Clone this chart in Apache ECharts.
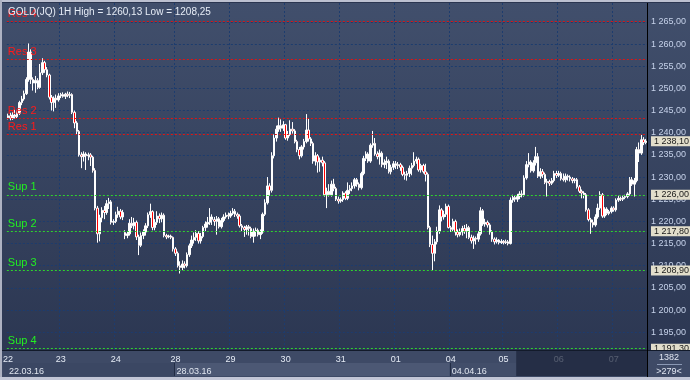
<!DOCTYPE html>
<html><head><meta charset="utf-8">
<script src="https://cdn.jsdelivr.net/npm/echarts@6/dist/echarts.min.js"></script>
<style>html,body{margin:0;padding:0;background:#2e3a55;}#c{width:690px;height:380px;}</style>
</head><body><div id="c"></div>
<script>
// ---- data ----
const symbolName = 'GOLD(JQ)';
const timeframe = '1H';
const dayLabels = ['22','23','24','28','29','30','31','01','04','05','06','07'];
const dayBarCounts = [23,24,26,24,24,24,24,24,23,24,24,15];
const weekLabels = ['22.03.16','28.03.16','04.04.16'];
const weekStartDays = [0,3,8];
const fadedFromBar = 222;
const barTotal = '1382';
const barsVisible = '>279<';

const opens = [
1243.4,1243.8,1243.3,1244.0,1243.6,1244.4,1246.8,1247.6,1248.8,1252.0,1258.2,1252.0,1251.2,1251.8,1250.2,1253.5,1255.8,1254.2,1253.0,1248.0,1246.8,1247.8,1247.4,
1248.3,1248.6,1248.2,1248.7,1248.4,1248.6,1244.6,1242.2,1240.3,1235.0,1234.6,1235.2,1234.8,1235.0,1234.5,1231.5,1223.0,1217.2,1220.8,1222.5,1222.0,1224.0,1224.4,1219.8,
1220.0,1221.5,1222.3,1221.0,1217.5,1216.8,1217.2,1219.6,1219.0,1219.8,1216.5,1214.6,1216.8,1217.6,1219.0,1221.5,1222.2,1218.6,1219.8,1221.2,1220.6,1221.4,1216.8,1216.5,1216.7,1216.4,
1213.8,1212.8,1210.0,1209.6,1210.4,1210.0,1212.5,1214.5,1215.8,1216.4,1217.3,1215.6,1216.6,1218.6,1219.4,1219.8,1221.0,1220.4,1220.0,1220.6,1218.8,1220.2,1221.0,1221.4,
1221.2,1221.8,1222.3,1221.6,1221.2,1219.0,1218.6,1218.2,1218.8,1218.4,1216.6,1217.8,1218.0,1217.0,1217.6,1221.6,1224.2,1228.0,1227.0,1234.8,1238.8,1240.8,1241.6,1241.0,
1241.8,1238.8,1239.6,1240.8,1240.4,1238.0,1236.2,1234.8,1236.8,1238.0,1240.6,1238.6,1237.6,1233.6,1234.8,1233.4,1233.8,1233.2,1226.0,1226.8,1226.0,1228.4,1227.4,1225.0,
1224.6,1224.9,1226.4,1225.2,1227.0,1227.4,1228.0,1229.4,1228.4,1227.6,1230.8,1234.2,1235.2,1233.6,1237.2,1237.6,1235.2,1234.6,1235.4,1232.8,1233.2,1233.6,1231.2,1232.2,
1233.0,1232.6,1232.8,1232.2,1230.6,1230.4,1230.8,1232.0,1232.6,1233.6,1234.0,1231.6,1232.6,1231.2,1230.6,1218.6,1214.8,1212.8,1215.4,1217.8,1222.6,1221.0,1221.6,1223.4,
1218.6,1218.2,1220.0,1217.6,1217.0,1217.6,1218.4,1217.8,1218.6,1216.4,1215.6,1216.2,1216.0,1217.2,1222.4,1219.4,1219.8,1219.2,1217.6,1216.0,1215.4,1215.8,1215.2,
1215.5,1215.2,1215.4,1215.0,1224.8,1225.4,1225.0,1225.6,1226.2,1226.0,1229.8,1232.8,1233.4,1231.4,1233.2,1234.6,1230.2,1231.2,1230.6,1228.8,1229.0,1228.6,1229.2,1230.8,
1230.4,1230.8,1229.6,1229.4,1230.2,1230.0,1229.6,1229.2,1229.4,1227.8,1226.8,1226.4,1226.0,1222.6,1220.4,1219.8,1219.2,1221.0,1223.0,1226.0,1221.2,1222.8,1221.8,1222.2,
1223.0,1222.6,1224.8,1225.2,1225.0,1225.4,1225.6,1226.2,1229.4,1228.4,1229.2,1236.2,1235.4,1238.4,1237.8
];
const closes = [
1243.8,1243.3,1244.0,1243.6,1244.4,1246.8,1247.6,1248.8,1252.0,1258.2,1252.0,1251.2,1251.8,1250.2,1253.5,1255.8,1254.2,1253.0,1248.0,1246.8,1247.8,1247.4,1248.3,
1248.6,1248.2,1248.7,1248.4,1248.6,1244.6,1242.2,1240.3,1235.0,1234.6,1235.2,1234.8,1235.0,1234.5,1231.5,1223.0,1217.2,1220.8,1222.5,1222.0,1224.0,1224.4,1219.8,1220.0,
1221.5,1222.3,1221.0,1222.0,1216.8,1217.2,1219.6,1219.0,1219.8,1216.5,1214.6,1216.8,1217.6,1219.0,1221.5,1222.2,1218.6,1219.8,1221.2,1220.6,1221.4,1216.8,1216.5,1216.7,1216.4,1213.8,
1212.8,1210.0,1209.6,1210.4,1210.0,1212.5,1214.5,1215.8,1216.4,1217.3,1215.6,1216.6,1218.6,1219.4,1219.8,1221.0,1220.4,1220.0,1220.6,1218.8,1220.2,1221.0,1221.4,1221.2,
1221.8,1222.3,1221.6,1221.2,1219.0,1218.6,1218.2,1218.8,1218.4,1216.6,1217.8,1218.0,1217.0,1217.6,1221.6,1224.2,1228.0,1227.0,1234.8,1238.8,1240.8,1241.6,1241.0,1241.8,
1238.8,1239.6,1240.8,1240.4,1238.0,1236.2,1234.8,1236.8,1238.0,1240.6,1238.6,1237.6,1233.6,1234.8,1233.4,1233.8,1233.2,1226.0,1226.8,1226.0,1228.4,1227.4,1225.0,1224.6,
1224.9,1226.4,1225.2,1227.0,1227.4,1228.0,1229.4,1228.4,1227.6,1230.8,1234.2,1235.2,1233.6,1237.2,1237.6,1235.2,1234.6,1235.4,1232.8,1233.2,1233.6,1231.2,1232.2,1233.0,
1232.6,1232.8,1232.2,1230.6,1230.4,1230.8,1232.0,1232.6,1233.6,1234.0,1231.6,1232.6,1231.2,1230.6,1218.6,1214.8,1212.8,1215.4,1217.8,1222.6,1221.0,1221.6,1223.4,1218.6,
1218.2,1220.0,1217.6,1217.0,1217.6,1218.4,1217.8,1218.6,1216.4,1215.6,1216.2,1216.0,1217.2,1222.4,1219.4,1219.8,1219.2,1217.6,1216.0,1215.4,1215.8,1215.2,1215.5,
1215.2,1215.4,1215.0,1224.8,1225.4,1225.0,1225.6,1226.2,1226.0,1229.8,1232.8,1233.4,1231.4,1233.2,1234.6,1230.2,1231.2,1230.6,1228.8,1229.0,1228.6,1229.2,1230.8,1230.4,
1230.8,1229.6,1229.4,1230.2,1230.0,1229.6,1229.2,1229.4,1227.8,1226.8,1226.4,1226.0,1222.6,1220.4,1219.8,1219.2,1221.0,1223.0,1226.0,1221.2,1222.8,1221.8,1222.2,1223.0,
1222.6,1224.8,1225.2,1225.0,1225.4,1225.6,1226.2,1229.4,1228.4,1229.2,1236.2,1235.4,1238.4,1237.8,1238.1
];
const lows = [
1243.0,1242.8,1242.9,1243.2,1243.3,1244.0,1246.2,1247.2,1248.5,1251.5,1251.0,1249.5,1249.0,1249.8,1249.9,1253.0,1253.5,1252.5,1247.5,1245.0,1244.8,1245.6,1247.0,
1247.8,1247.9,1247.6,1248.0,1247.8,1244.2,1241.0,1239.6,1234.6,1232.0,1233.5,1231.6,1233.8,1232.5,1231.0,1222.5,1215.2,1215.5,1219.8,1220.5,1221.5,1222.8,1219.3,1219.2,
1219.6,1220.8,1220.5,1220.3,1216.0,1216.2,1216.8,1218.5,1218.2,1215.8,1212.4,1214.2,1216.0,1216.8,1218.5,1220.8,1218.0,1218.0,1219.2,1219.6,1219.8,1216.4,1216.0,1216.2,1216.0,1213.2,
1212.2,1209.6,1208.25,1209.0,1209.4,1209.6,1212.0,1214.0,1215.0,1215.6,1215.0,1215.0,1216.2,1217.8,1218.6,1219.2,1219.2,1219.0,1217.0,1218.4,1218.4,1219.8,1220.6,1220.5,
1220.8,1221.4,1221.0,1220.6,1218.6,1217.8,1216.5,1217.0,1216.8,1216.2,1215.2,1216.6,1216.6,1216.0,1217.2,1221.2,1223.8,1225.8,1226.5,1234.2,1238.0,1240.2,1240.2,1240.4,
1238.4,1238.2,1239.2,1239.8,1237.6,1235.6,1234.0,1234.4,1236.2,1237.6,1238.0,1237.0,1233.0,1232.6,1231.0,1231.2,1232.4,1225.6,1223.0,1225.6,1225.6,1226.8,1224.6,1224.0,
1224.2,1224.4,1224.8,1224.8,1226.2,1226.8,1227.4,1227.8,1227.0,1227.2,1230.4,1233.6,1233.2,1233.2,1236.6,1234.8,1234.0,1232.8,1232.2,1232.0,1231.8,1230.8,1230.6,1231.6,
1231.8,1231.8,1231.4,1230.2,1229.4,1229.2,1230.0,1230.4,1232.2,1233.0,1231.2,1231.0,1230.8,1229.0,1218.2,1214.2,1209.0,1211.0,1214.8,1217.2,1220.0,1220.4,1221.0,1218.4,
1217.6,1217.8,1216.8,1216.4,1216.6,1216.8,1217.2,1216.2,1216.0,1215.0,1213.8,1214.8,1215.4,1216.8,1219.0,1218.8,1218.6,1217.0,1215.4,1214.8,1215.0,1214.8,1214.9,
1214.8,1214.9,1214.6,1214.8,1224.2,1224.4,1224.4,1225.0,1225.4,1225.6,1229.4,1232.2,1231.0,1231.0,1232.6,1229.8,1229.6,1229.8,1228.4,1225.6,1228.0,1228.2,1228.8,1229.8,
1230.0,1229.2,1229.0,1228.8,1229.2,1229.0,1228.6,1228.6,1227.4,1226.4,1225.2,1225.2,1222.2,1220.0,1217.2,1218.6,1218.8,1220.6,1222.6,1220.8,1220.8,1221.4,1221.4,1221.8,
1222.2,1222.2,1224.4,1224.6,1224.6,1225.0,1225.2,1225.8,1228.0,1225.6,1228.8,1233.4,1235.0,1237.2,1237.4
];
const highs = [
1244.3,1244.5,1244.6,1245.2,1245.0,1247.2,1248.3,1249.5,1252.5,1260.13,1258.8,1252.5,1252.8,1252.3,1255.5,1256.8,1256.2,1254.8,1253.3,1248.5,1248.2,1248.6,1248.9,
1249.0,1249.1,1249.0,1249.3,1249.2,1248.9,1245.0,1242.6,1240.6,1235.6,1235.8,1235.6,1235.5,1235.4,1234.8,1232.0,1223.5,1221.5,1223.2,1223.5,1224.8,1225.3,1224.8,1220.5,
1222.2,1223.3,1222.8,1222.6,1218.0,1217.8,1220.5,1221.0,1220.8,1220.2,1217.0,1217.5,1218.2,1219.6,1222.0,1224.0,1222.5,1220.5,1222.3,1221.8,1222.0,1221.8,1217.2,1217.0,1217.0,1216.6,
1214.2,1213.2,1211.0,1211.2,1211.0,1213.0,1215.0,1216.8,1217.5,1218.0,1217.8,1217.4,1219.0,1220.0,1221.0,1223.0,1221.6,1221.0,1221.2,1221.0,1220.8,1221.6,1222.0,1222.0,
1222.4,1223.0,1222.8,1222.0,1221.6,1219.4,1219.0,1219.2,1219.2,1218.8,1218.4,1218.6,1218.4,1218.2,1222.0,1225.0,1230.0,1228.6,1235.6,1239.6,1241.6,1243.4,1243.0,1242.6,
1242.0,1240.4,1242.8,1242.4,1240.8,1238.4,1236.8,1237.2,1238.6,1244.2,1243.2,1239.0,1238.0,1235.6,1235.2,1234.4,1234.6,1233.6,1227.6,1228.4,1229.2,1229.6,1227.8,1225.6,
1225.4,1226.8,1226.8,1228.8,1228.2,1228.8,1229.8,1229.8,1228.8,1231.2,1234.8,1235.8,1235.6,1237.6,1240.4,1238.8,1235.8,1236.2,1235.8,1234.0,1234.6,1234.0,1232.8,1233.6,
1233.6,1233.4,1233.2,1232.6,1231.2,1231.4,1232.6,1233.2,1235.6,1234.6,1234.4,1233.0,1233.0,1233.0,1231.0,1219.0,1216.8,1216.0,1218.8,1223.6,1223.0,1222.4,1224.0,1223.8,
1219.0,1220.6,1220.4,1218.2,1218.4,1219.0,1219.2,1219.4,1219.0,1217.0,1216.8,1216.6,1217.8,1223.2,1222.8,1220.6,1220.2,1219.6,1218.0,1216.4,1216.4,1216.0,1216.0,
1215.8,1215.9,1215.8,1225.4,1226.0,1225.8,1226.2,1226.8,1227.0,1230.4,1233.6,1235.4,1233.8,1233.8,1236.8,1235.4,1232.0,1231.8,1231.0,1229.6,1229.4,1229.8,1231.4,1231.4,
1231.4,1231.2,1230.8,1230.8,1230.6,1230.4,1230.0,1229.8,1229.8,1228.2,1227.2,1226.8,1226.4,1223.0,1220.8,1220.4,1221.6,1224.0,1226.8,1226.4,1223.2,1223.2,1222.6,1223.4,
1223.4,1225.2,1225.8,1225.6,1225.8,1226.0,1226.6,1230.0,1230.0,1229.8,1236.8,1237.8,1239.5,1239.0,1238.6
];
const resNames = ['Res 1','Res 2','Res 3','Res 4'];
const resValues = [1239.7, 1243.3, 1256.5, 1265.1];
const supNames = ['Sup 1','Sup 2','Sup 3','Sup 4'];
const supValues = [1226.00, 1217.80, 1208.90, 1191.30];
const lastPrice = 1238.10;
const yMin = 1191.0, yMax = 1269.25;

// ---- helpers ----
const FONT = 'Liberation Sans';
function fmtPlain(v){ return v.toFixed(2).replace('.', ','); }
function fmt(v){ return fmtPlain(v).replace(/^(\d)(\d{3})/, '$1 $2'); }

const categories = [];
const dayStartIdx = [];
dayLabels.forEach((d, k) => {
  dayStartIdx.push(categories.length);
  for (let h = 0; h < dayBarCounts[k]; h++) categories.push(d + ':' + h);
});
const dayOf = {}; dayStartIdx.forEach((s, k) => dayOf[s] = dayLabels[k]);
const weekStartIdx = weekStartDays.map(k => dayStartIdx[k]);
const weekOf = {}; weekStartIdx.forEach((s, k) => weekOf[s] = weekLabels[k]);

const candleData = opens.map((o, i) => [o, closes[i], lows[i], highs[i]]);
const hi = Math.max(...highs), lo = Math.min(...lows);
const titleText = `${symbolName} ${timeframe} High = ${fmtPlain(hi)} Low = ${fmtPlain(lo)}`;

const markData = [];
resValues.forEach((v, k) => markData.push({
  yAxis: v,
  lineStyle: { color: '#e01414', type: [2, 2], width: 1 },
  label: { show: true, position: 'insideStartTop', formatter: resNames[k], color: '#ff1a1a',
           fontSize: 11, fontFamily: FONT, distance: [1, 2] }
}));
supValues.forEach((v, k) => markData.push({
  yAxis: v,
  lineStyle: { color: '#2ed42e', type: [2, 2], width: 1 },
  label: { show: true, position: 'insideStartTop', formatter: supNames[k], color: '#22ee22',
           fontSize: 11, fontFamily: FONT, distance: [1, 2] }
}));
const tagData = supValues.concat([lastPrice]).map(v => ({
  yAxis: v,
  lineStyle: { color: 'rgba(0,0,0,0)', width: 0, opacity: 1 },
  label: { show: true, position: 'end', formatter: fmt(v), color: '#1a1a1a', opacity: 1,
           backgroundColor: '#e2decb', padding: [1, 3, 0, 3], fontSize: 9, fontFamily: FONT, distance: 4 }
}));

const chart = echarts.init(document.getElementById('c'), null, { renderer: 'canvas' });
const labelAxisBase = {
  type: 'category', data: categories, boundaryGap: true, position: 'bottom', z: 60,
  axisLine: { show: false }, axisTick: { show: false }, splitLine: { show: false }
};
const option = {
  animation: false,
  backgroundColor: new echarts.graphic.LinearGradient(0, 0, 0, 1, [
    { offset: 0, color: '#414f6c' }, { offset: 1, color: '#2a3550' }]),
  title: { text: titleText, left: 3, top: 2, z: 10,
    textStyle: { color: '#e6ecf6', fontSize: 10, fontWeight: 'normal', fontFamily: FONT } },
  grid: { left: 3, right: 43, top: 3, bottom: 30 },
  xAxis: [{
    // grid lines at day boundaries (behind the candles)
    type: 'category', data: categories, boundaryGap: true,
    axisLine: { show: false }, axisTick: { show: false }, axisLabel: { show: false },
    splitLine: { show: true, interval: (i) => dayOf[i] !== undefined && i > 0,
      lineStyle: { color: '#1d3c6e', type: [2, 2], width: 1 } }
  }, Object.assign({}, labelAxisBase, {
    axisLabel: { interval: (i) => dayOf[i] !== undefined, formatter: (v, i) => dayOf[i] || '',
      color: '#e6ecf6', fontSize: 9, fontFamily: FONT, margin: 5 }
  }), Object.assign({}, labelAxisBase, {
    offset: 12,
    axisLabel: { interval: (i) => weekOf[i] !== undefined, formatter: (v, i) => weekOf[i] || '',
      color: '#e0e6f0', fontSize: 9, fontFamily: FONT, margin: 5, align: 'left', padding: [0, 0, 0, 1] }
  })],
  yAxis: {
    type: 'value', position: 'right', min: yMin, max: yMax, splitNumber: 16,
    axisLine: { show: true, lineStyle: { color: '#000000', width: 1 } },
    axisTick: { show: false },
    axisLabel: { formatter: fmt, color: '#c6d2ea', fontSize: 9, fontFamily: FONT, margin: 4,
      showMinLabel: false, showMaxLabel: false },
    splitLine: { show: true, showMinLine: false, showMaxLine: false,
      lineStyle: { color: '#1d3c6e', type: [2, 2], width: 1 } }
  },
  series: [{
    type: 'candlestick', data: candleData, barWidth: 2,
    itemStyle: { color: '#ffffff', color0: '#ff0000', borderColor: '#ffffff', borderColor0: '#ffffff', borderWidth: 1 },
    markLine: { symbol: 'none', silent: true, animation: false, data: markData }
  }, {
    type: 'line', data: closes.map(() => '-'), silent: true, clip: false,
    markLine: { symbol: 'none', silent: true, animation: false, data: tagData }
  }]
};
chart.setOption(option);

// decorative panels placed from the category scale
const c0 = chart.convertToPixel({ xAxisIndex: 0 }, 0);
const c1 = chart.convertToPixel({ xAxisIndex: 0 }, 1);
const band = c1 - c0;
const edge = (i) => chart.convertToPixel({ xAxisIndex: 0 }, i) - band / 2;
const plotRight = edge(categories.length - 1) + band;
const g = [];
g.push({ type: 'rect', shape: { x: 0, y: 350, width: 690, height: 27 }, style: { fill: '#3e4a66' }, z: 50, silent: true });
const weekColors = ['#3b4763', '#4c5874', '#424e6a'];
weekStartIdx.forEach((s, k) => {
  const xa = k === 0 ? 3 : edge(s);
  const xb = k < weekStartIdx.length - 1 ? edge(weekStartIdx[k + 1]) : edge(fadedFromBar);
  g.push({ type: 'rect', shape: { x: xa, y: 363, width: xb - xa, height: 13 }, style: { fill: weekColors[k] }, z: 51, silent: true });
  if (k > 0) g.push({ type: 'line', shape: { x1: Math.round(xa) + 0.5, y1: 363, x2: Math.round(xa) + 0.5, y2: 376 }, style: { stroke: '#222c44', lineWidth: 1 }, z: 52, silent: true });
});
g.push({ type: 'rect', shape: { x: edge(fadedFromBar), y: 351, width: plotRight - edge(fadedFromBar), height: 25 }, style: { fill: 'rgba(28,36,58,0.72)' }, z: 70, silent: true });
g.push({ type: 'line', shape: { x1: 0, y1: 350.5, x2: 690, y2: 350.5 }, style: { stroke: '#121a2a', lineWidth: 1 }, z: 75, silent: true });
g.push({ type: 'line', shape: { x1: 647.5, y1: 350, x2: 647.5, y2: 377 }, style: { stroke: '#000000', lineWidth: 1 }, z: 75, silent: true });
g.push({ type: 'line', shape: { x1: 657, y1: 364.5, x2: 682, y2: 364.5 }, style: { stroke: '#8a98b4', lineWidth: 1 }, z: 75, silent: true });
g.push({ type: 'text', style: { text: barTotal, x: 669, y: 358, align: 'center', verticalAlign: 'middle', fill: '#e0e6f2', font: '9px ' + FONT }, z: 80, silent: true });
g.push({ type: 'text', style: { text: barsVisible, x: 669, y: 371.5, align: 'center', verticalAlign: 'middle', fill: '#e0e6f2', font: '9px ' + FONT }, z: 80, silent: true });
g.push({ type: 'rect', shape: { x: 0, y: 0, width: 690, height: 2 }, style: { fill: '#bcc0d0' }, z: 80, silent: true });
g.push({ type: 'rect', shape: { x: 0, y: 2, width: 690, height: 1 }, style: { fill: '#2a3550' }, z: 80, silent: true });
g.push({ type: 'rect', shape: { x: 0, y: 0, width: 2, height: 380 }, style: { fill: '#aeb2c2' }, z: 80, silent: true });
g.push({ type: 'rect', shape: { x: 0, y: 377, width: 690, height: 3 }, style: { fill: '#c2c6d6' }, z: 80, silent: true });
chart.setOption({ graphic: { elements: g } });
</script>
</body></html>
